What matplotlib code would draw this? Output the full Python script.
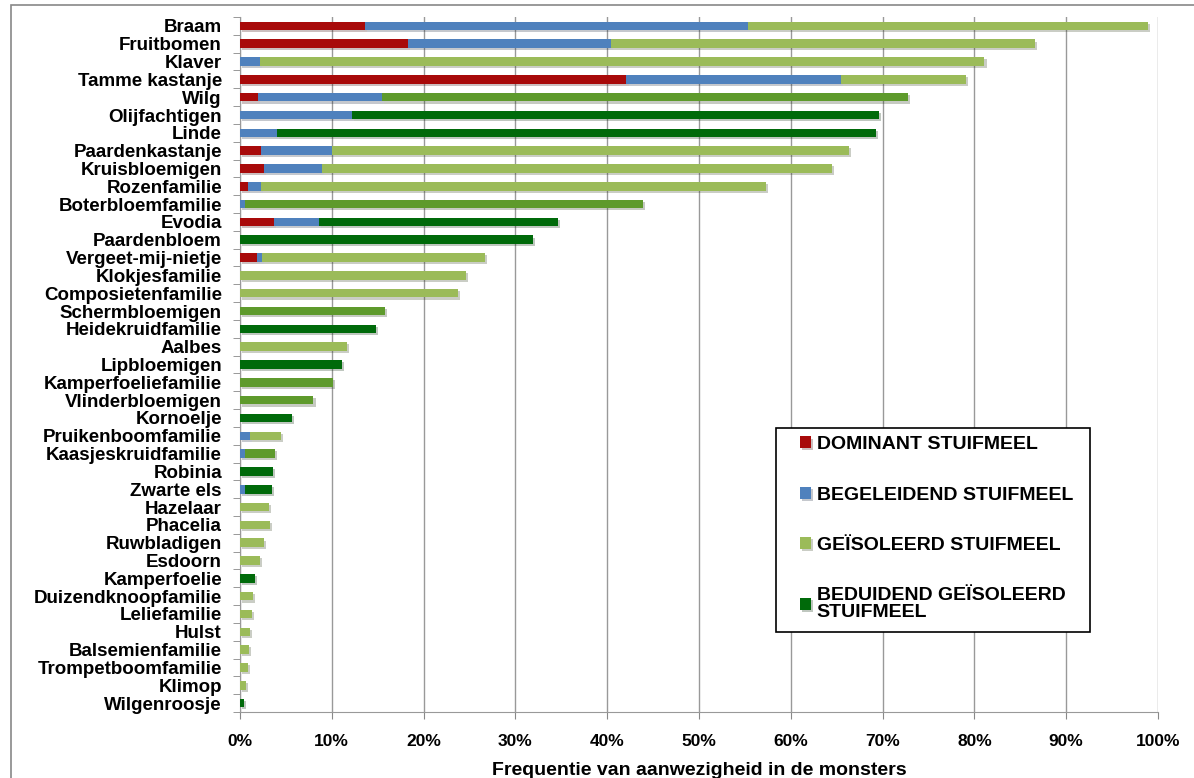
import numpy as np
import matplotlib.pyplot as plt
import matplotlib.patheffects as pe
from matplotlib.patches import Rectangle

plt.rcParams['font.family'] = ['Liberation Sans', 'DejaVu Sans']

categories = ['Braam', 'Fruitbomen', 'Klaver', 'Tamme kastanje', 'Wilg', 'Olijfachtigen',
              'Linde', 'Paardenkastanje', 'Kruisbloemigen', 'Rozenfamilie',
              'Boterbloemfamilie', 'Evodia', 'Paardenbloem', 'Vergeet-mij-nietje',
              'Klokjesfamilie', 'Composietenfamilie', 'Schermbloemigen', 'Heidekruidfamilie',
              'Aalbes', 'Lipbloemigen', 'Kamperfoeliefamilie', 'Vlinderbloemigen', 'Kornoelje',
              'Pruikenboomfamilie', 'Kaasjeskruidfamilie', 'Robinia', 'Zwarte els', 'Hazelaar',
              'Phacelia', 'Ruwbladigen', 'Esdoorn', 'Kamperfoelie', 'Duizendknoopfamilie',
              'Leliefamilie', 'Hulst', 'Balsemienfamilie', 'Trompetboomfamilie', 'Klimop',
              'Wilgenroosje']

# segment widths in % of samples
dominant = [13.6, 18.3, 0, 42.1, 2.0, 0, 0, 2.3, 2.6, 0.9,
            0, 3.7, 0, 1.9, 0, 0, 0, 0, 0, 0,
            0, 0, 0, 0, 0, 0, 0, 0, 0, 0,
            0, 0, 0, 0, 0, 0, 0, 0, 0]
begeleidend = [41.7, 22.1, 2.2, 23.4, 13.5, 12.2, 4.0, 7.7, 6.3, 1.4,
               0.5, 4.9, 0, 0.5, 0, 0, 0, 0, 0, 0,
               0, 0, 0, 1.1, 0.5, 0, 0.5, 0, 0, 0,
               0, 0, 0, 0, 0, 0, 0, 0, 0]
geisoleerd = [43.6, 46.2, 78.9, 13.6, 0, 0, 0, 56.3, 55.6, 55.0,
              0, 0, 0, 24.3, 24.6, 23.7, 0, 0, 11.7, 0,
              0, 0, 0, 3.4, 0, 0, 0, 3.2, 3.3, 2.6,
              2.2, 0, 1.4, 1.3, 1.1, 1.0, 0.9, 0.6, 0]
# medium green bars (not in the legend of the original)
geisoleerd_mid = [0, 0, 0, 0, 57.3, 0, 0, 0, 0, 0,
                  43.4, 0, 0, 0, 0, 0, 15.8, 0, 0, 0,
                  10.1, 8.0, 0, 0, 3.3, 0, 0, 0, 0, 0,
                  0, 0, 0, 0, 0, 0, 0, 0, 0]
beduidend = [0, 0, 0, 0, 0, 57.4, 65.3, 0, 0, 0,
             0, 26.0, 31.9, 0, 0, 0, 0, 14.8, 0, 11.1,
             0, 0, 5.7, 0, 0, 3.6, 3.0, 0, 0, 0,
             0, 1.6, 0, 0, 0, 0, 0, 0, 0.4]

series = [
    (dominant, '#A80A0A', 'DOMINANT STUIFMEEL'),
    (begeleidend, '#4F81BD', 'BEGELEIDEND STUIFMEEL'),
    (geisoleerd, '#9BBB59', 'GEÏSOLEERD STUIFMEEL'),
    (geisoleerd_mid, '#5E9A2C', '_nolegend_'),
    (beduidend, '#006A0A', 'BEDUIDEND GEÏSOLEERD\nSTUIFMEEL'),
]

fig = plt.figure(figsize=(11.94, 7.78), dpi=100)
ax = fig.add_axes([240 / 1194, 1 - 712 / 778, (1158 - 240) / 1194, (712 - 17) / 778])

y = np.arange(len(categories))
left = np.zeros(len(categories))
shadow = [pe.SimplePatchShadow(offset=(1.5, -1.5), alpha=0.25), pe.Normal()]
handles = []
for vals, color, label in series:
    vals = np.array(vals, dtype=float)
    bars = ax.barh(y, vals, left=left, height=0.48, color=color, label=label, zorder=3)
    for b in bars:
        b.set_path_effects(shadow)
    left += vals
    if label != '_nolegend_':
        handles.append(bars)

ax.set_xlim(0, 100)
ax.set_ylim(len(categories) - 0.5, -0.5)
ax.set_xticks(np.arange(0, 101, 10))
ax.set_xticklabels([f'{v}%' for v in range(0, 101, 10)], fontsize=12.5, fontweight='bold')
ax.set_yticks(y)
ax.set_yticklabels(categories, fontsize=13.5, fontweight='bold')
ax.set_yticks(np.arange(-0.5, len(categories), 1), minor=True)
ax.tick_params(axis='y', which='major', length=0, pad=13)
ax.tick_params(axis='y', which='minor', length=5, color='#888888')
ax.tick_params(axis='x', length=5, color='#888888', pad=11)
ax.grid(axis='x', color='#999999', linewidth=1, zorder=0)
for s in ['top', 'right']:
    ax.spines[s].set_visible(False)
ax.spines['left'].set_color('#999999')
ax.spines['bottom'].set_color('#999999')
ax.set_xlabel('Frequentie van aanwezigheid in de monsters', fontsize=14,
              fontweight='bold', labelpad=9)

# legend box drawn separately so the entries can sit inside it freely
fig.patches.append(Rectangle((776 / 1194, 1 - 632 / 778), (1090 - 776) / 1194,
                             (632 - 428) / 778, transform=fig.transFigure,
                             facecolor='white', edgecolor='black', linewidth=1.2,
                             zorder=5))
leg = fig.legend(handles=handles, loc='upper left',
                 bbox_to_anchor=(792 / 1194, 1 - 428 / 778), frameon=False,
                 prop={'size': 14, 'weight': 'bold'}, handlelength=0.55,
                 handleheight=0.55, handletextpad=0.3, labelspacing=1.72,
                 borderpad=0.42, borderaxespad=0)
leg.set_zorder(6)
for t in leg.get_texts():
    t.set_linespacing(0.95)

# outer chart frame
fig.patches.append(Rectangle((11 / 1194, -0.1), 1.2, 1 - 5 / 778 + 0.1,
                             transform=fig.transFigure, fill=False,
                             edgecolor='#888888', linewidth=1.2))

fig.savefig('out.png', dpi=100)
